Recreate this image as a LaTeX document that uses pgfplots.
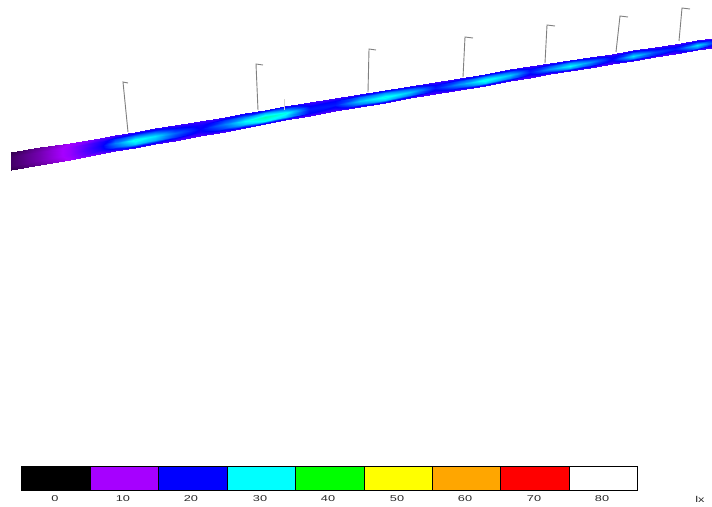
\documentclass[border=0pt]{standalone}
\usepackage{graphicx}
\usepackage{fontspec}
\setmainfont{Liberation Sans}
\usepackage{pgfplots}
\pgfplotsset{compat=1.18}
\usepackage{pgfplotstable}
\pgfplotstableread{
x y c
11 152 3
11 156.5 4
11 161 4
11 165.5 4
11 170 3

40 147.3 6
40 151.7 7
40 156 7
40 160.4 7
40 164.8 6

70 142.5 10
70 146.8 11
70 151 11
70 155.3 11
70 159.5 10

100 137.5 14
100 141.6 18
100 145.8 19
100 149.9 18
100 154 13

115 135 15
115 139.1 22
115 143.2 25
115 147.2 23
115 151.3 15

135 131.7 17
135 135.7 25
135 139.7 31
135 143.7 28
135 147.7 16

155 128.3 17
155 132.3 24
155 136.2 29
155 140.2 27
155 144.1 16

175 125 16
175 128.9 21
175 132.8 24
175 136.7 22
175 140.6 15

200 120.8 16
200 124.7 19
200 128.5 20
200 132.4 19
200 136.2 15

225 116.5 17
225 120.3 22
225 124.1 25
225 127.8 23
225 131.6 15

245 113 18
245 116.7 25
245 120.5 30
245 124.2 28
245 127.9 16

265 109.5 18
265 113.2 27
265 116.8 33
265 120.5 30
265 124.1 16

285 106 18
285 109.6 26
285 113.2 31
285 116.7 28
285 120.3 16

310 102 16
310 105.5 20
310 109 21
310 112.5 20
310 116 15

335 97.8 16
335 101.2 20
335 104.6 21
335 108 19
335 111.4 15

360 94 17
360 97.3 24
360 100.6 28
360 103.9 25
360 107.2 16

385 90 18
385 93.2 26
385 96.5 31
385 99.7 28
385 102.9 16

410 85.8 17
410 89 24
410 92.1 28
410 95.3 25
410 98.4 16

435 81.7 16
435 84.8 20
435 87.9 21
435 91 19
435 94.1 15

460 77.5 17
460 80.6 23
460 83.6 26
460 86.7 23
460 89.7 15

485 73.5 18
485 76.5 26
485 79.5 31
485 82.5 28
485 85.5 16

510 69.3 17
510 72.2 24
510 75.2 28
510 78.1 25
510 81 16

530 66 16
530 68.9 20
530 71.8 21
530 74.6 19
530 77.5 15

550 63 17
550 65.8 23
550 68.6 26
550 71.4 23
550 74.2 15

570 60 18
570 62.8 26
570 65.5 30
570 68.3 27
570 71 16

590 57 17
590 59.7 23
590 62.4 26
590 65.1 23
590 67.8 16

612 53.5 16
612 56.1 19
612 58.8 20
612 61.4 19
612 64 15

633 50.3 17
633 52.9 24
633 55.5 29
633 58 26
633 60.6 16

655 47 16
655 49.5 21
655 52 23
655 54.5 21
655 57 15

675 44 16
675 46.5 20
675 49 21
675 51.4 19
675 53.9 15

697 40.5 17
697 42.9 24
697 45.4 29
697 47.8 25
697 50.2 16

712 38 14
712 40.4 20
712 42.8 23
712 45.1 20
712 47.5 15
}\roadtable
\newcommand{\lab}[1]{\scalebox{1.5}[1]{\fontsize{8.5}{10}\selectfont\color[gray]{0.15}#1}}
\begin{document}
\begin{tikzpicture}
\path[use as bounding box] (0,0) rectangle (712pt,506pt);
\begin{axis}[
  at={(0,0)}, anchor=south west,
  scale only axis, width=712pt, height=506pt,
  xmin=0, xmax=712, ymin=0, ymax=506, y dir=reverse,
  axis lines=none, clip=true,
  point meta min=0, point meta max=80,
  colormap={lux}{rgb255(0)=(0,0,0) rgb255(10)=(166,0,255) rgb255(20)=(0,0,255) rgb255(30)=(0,255,255) rgb255(40)=(0,255,0) rgb255(50)=(255,255,0) rgb255(60)=(255,166,0) rgb255(70)=(255,0,0) rgb255(80)=(255,255,255)},
]
\addplot[surf, shader=interp, mesh/cols=5, mesh/rows=32, point meta=\thisrow{c}] table[x=x, y=y] {\roadtable};
% poles
\addplot[gray, line width=0.9pt] coordinates {(128,132)(123,82)(128,83)};
\addplot[gray, line width=0.9pt] coordinates {(258,110)(256,64)(263,65)};
\addplot[gray, line width=0.9pt] coordinates {(368,92)(369,49)(376,50)};
\addplot[gray, line width=0.9pt] coordinates {(463,77)(465,37)(473,38)};
\addplot[gray, line width=0.9pt] coordinates {(545,63)(547,25)(555,26)};
\addplot[gray, line width=0.9pt] coordinates {(616,52)(620,16)(628,17)};
\addplot[gray, line width=0.9pt] coordinates {(679,41)(682,8)(690,9)};
\addplot[gray!35, line width=0.7pt] coordinates {(284,99)(284,110)};
% colour key
\addplot[fill=black, draw=black, line width=1pt] coordinates {(21,466)(90,466)(90,490)(21,490)} --cycle;
\addplot[fill={rgb,255:red,166;green,0;blue,255}, draw=black, line width=1pt] coordinates {(90,466)(158,466)(158,490)(90,490)} --cycle;
\addplot[fill={rgb,255:red,0;green,0;blue,255}, draw=black, line width=1pt] coordinates {(158,466)(227,466)(227,490)(158,490)} --cycle;
\addplot[fill={rgb,255:red,0;green,255;blue,255}, draw=black, line width=1pt] coordinates {(227,466)(295,466)(295,490)(227,490)} --cycle;
\addplot[fill={rgb,255:red,0;green,255;blue,0}, draw=black, line width=1pt] coordinates {(295,466)(364,466)(364,490)(295,490)} --cycle;
\addplot[fill={rgb,255:red,255;green,255;blue,0}, draw=black, line width=1pt] coordinates {(364,466)(432,466)(432,490)(364,490)} --cycle;
\addplot[fill={rgb,255:red,255;green,166;blue,0}, draw=black, line width=1pt] coordinates {(432,466)(500,466)(500,490)(432,490)} --cycle;
\addplot[fill={rgb,255:red,255;green,0;blue,0}, draw=black, line width=1pt] coordinates {(500,466)(569,466)(569,490)(500,490)} --cycle;
\addplot[fill=white, draw=black, line width=1pt] coordinates {(569,466)(637,466)(637,490)(569,490)} --cycle;
\node at (axis cs:55,499) {\lab{0}};
\node at (axis cs:123,499) {\lab{10}};
\node at (axis cs:191,499) {\lab{20}};
\node at (axis cs:260,499) {\lab{30}};
\node at (axis cs:328,499) {\lab{40}};
\node at (axis cs:397,499) {\lab{50}};
\node at (axis cs:465,499) {\lab{60}};
\node at (axis cs:534,499) {\lab{70}};
\node at (axis cs:602,499) {\lab{80}};
\node at (axis cs:700,499) {\lab{lx}};
\end{axis}
\end{tikzpicture}
\end{document}
